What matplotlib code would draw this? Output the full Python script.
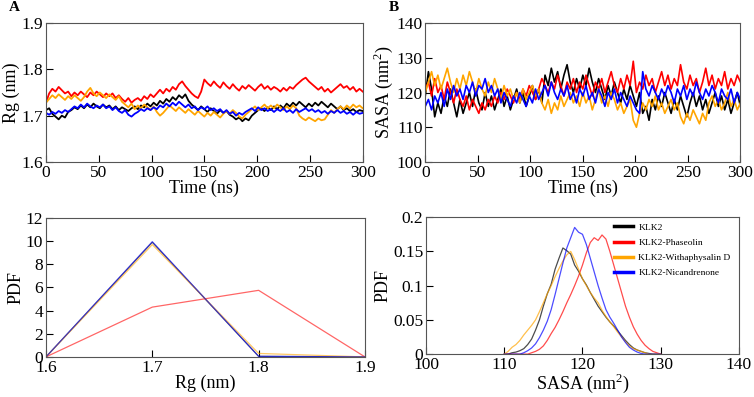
import numpy as np
import matplotlib
matplotlib.use("Agg")
import matplotlib.pyplot as plt

plt.rcParams["font.family"] = ["Liberation Serif", "DejaVu Serif"]
plt.rcParams["mathtext.fontset"] = "custom"
plt.rcParams["mathtext.rm"] = "Liberation Serif"

names = ["KLK2", "KLK2-Phaseolin", "KLK2-Withaphysalin D", "KLK2-Nicandrenone"]
colors = ["black", "red", "orange", "blue"]

# Rg (nm), sampled every 3 ns from 0 to 300 ns
rg_klk2 = [1.712, 1.716, 1.704, 1.698, 1.692, 1.700, 1.696, 1.708, 1.712, 1.718, 1.714, 1.722, 1.716, 1.724,
           1.718, 1.726, 1.720, 1.716, 1.724, 1.718, 1.722, 1.714, 1.720, 1.712, 1.718, 1.714, 1.710, 1.716,
           1.720, 1.714, 1.722, 1.718, 1.726, 1.720, 1.728, 1.722, 1.732, 1.726, 1.736, 1.730, 1.740, 1.734,
           1.744, 1.738, 1.746, 1.732, 1.724, 1.718, 1.712, 1.720, 1.714, 1.708, 1.716, 1.710, 1.704, 1.712,
           1.706, 1.710, 1.702, 1.698, 1.692, 1.696, 1.688, 1.694, 1.690, 1.700, 1.706, 1.712, 1.716, 1.710,
           1.718, 1.712, 1.720, 1.714, 1.722, 1.716, 1.726, 1.720, 1.728, 1.722, 1.730, 1.724, 1.718, 1.726,
           1.720, 1.728, 1.722, 1.730, 1.724, 1.718, 1.726, 1.720, 1.714, 1.720, 1.712, 1.716, 1.710, 1.714,
           1.708, 1.712, 1.710]
rg_phas = [1.728, 1.748, 1.758, 1.752, 1.762, 1.755, 1.748, 1.752, 1.742, 1.750, 1.744, 1.752, 1.746, 1.740,
           1.750, 1.744, 1.752, 1.746, 1.740, 1.748, 1.742, 1.748, 1.738, 1.744, 1.736, 1.730, 1.738, 1.728,
           1.734, 1.738, 1.732, 1.742, 1.736, 1.746, 1.740, 1.748, 1.756, 1.748, 1.758, 1.752, 1.762, 1.756,
           1.768, 1.774, 1.764, 1.756, 1.748, 1.742, 1.738, 1.752, 1.778, 1.770, 1.764, 1.774, 1.766, 1.760,
           1.772, 1.764, 1.758, 1.768, 1.760, 1.754, 1.764, 1.758, 1.766, 1.760, 1.754, 1.762, 1.768, 1.758,
           1.764, 1.756, 1.762, 1.758, 1.752, 1.760, 1.754, 1.762, 1.758, 1.766, 1.772, 1.778, 1.782, 1.774,
           1.768, 1.762, 1.756, 1.762, 1.752, 1.758, 1.750, 1.756, 1.762, 1.768, 1.760, 1.764, 1.756, 1.762,
           1.752, 1.758, 1.752]
rg_with = [1.728, 1.736, 1.744, 1.738, 1.746, 1.740, 1.734, 1.742, 1.736, 1.744, 1.738, 1.732, 1.740, 1.752,
           1.760, 1.748, 1.742, 1.750, 1.744, 1.738, 1.746, 1.740, 1.734, 1.742, 1.730, 1.724, 1.718, 1.726,
           1.714, 1.722, 1.716, 1.724, 1.718, 1.712, 1.720, 1.708, 1.700, 1.706, 1.714, 1.722, 1.716, 1.710,
           1.718, 1.712, 1.706, 1.714, 1.708, 1.702, 1.710, 1.704, 1.698, 1.706, 1.700, 1.708, 1.702, 1.696,
           1.704, 1.710, 1.704, 1.712, 1.706, 1.698, 1.694, 1.702, 1.708, 1.714, 1.720, 1.712, 1.718, 1.724,
           1.716, 1.722, 1.716, 1.724, 1.718, 1.712, 1.720, 1.714, 1.722, 1.716, 1.700, 1.694, 1.690, 1.696,
           1.692, 1.688, 1.694, 1.690, 1.692, 1.702, 1.712, 1.706, 1.714, 1.720, 1.714, 1.722, 1.716, 1.724,
           1.718, 1.722, 1.716]
rg_nica = [1.706, 1.702, 1.708, 1.704, 1.710, 1.706, 1.712, 1.708, 1.714, 1.720, 1.716, 1.724, 1.718, 1.726,
           1.720, 1.716, 1.722, 1.718, 1.724, 1.716, 1.720, 1.712, 1.718, 1.710, 1.706, 1.712, 1.702, 1.698,
           1.704, 1.708, 1.714, 1.710, 1.716, 1.712, 1.718, 1.714, 1.722, 1.718, 1.726, 1.720, 1.728, 1.722,
           1.730, 1.724, 1.718, 1.724, 1.716, 1.720, 1.712, 1.718, 1.714, 1.720, 1.712, 1.716, 1.710, 1.714,
           1.706, 1.712, 1.704, 1.708, 1.700, 1.706, 1.702, 1.708, 1.712, 1.716, 1.710, 1.718, 1.712, 1.716,
           1.710, 1.714, 1.708, 1.714, 1.710, 1.716, 1.708, 1.712, 1.706, 1.714, 1.708, 1.712, 1.716, 1.710,
           1.714, 1.708, 1.712, 1.706, 1.710, 1.704, 1.710, 1.706, 1.712, 1.706, 1.710, 1.704, 1.708, 1.702,
           1.708, 1.704, 1.706]

# SASA (nm^2), sampled every 3 ns from 0 to 300 ns
sasa_klk2 = [119, 126, 121, 113, 117, 114, 119, 116, 121, 117, 113, 118, 114, 117, 120, 116, 121, 117, 115, 120,
             116, 119, 115, 118, 121, 116, 119, 115, 118, 121, 117, 120, 116, 119, 122, 118, 121, 117, 125, 122,
             127, 123, 126, 121, 125, 128, 123, 120, 124, 121, 125, 122, 127, 123, 120, 124, 121, 118, 122, 119,
             123, 120, 117, 121, 118, 122, 119, 116, 120, 114, 116, 112, 118, 115, 119, 116, 120, 117, 114, 118,
             115, 119, 116, 113, 117, 120, 116, 119, 115, 118, 114, 117, 120, 116, 119, 115, 118, 114, 117, 120,
             116]
sasa_phas = [121, 123, 119, 124, 120, 122, 118, 123, 120, 117, 121, 118, 116, 119, 115, 118, 116, 114, 117, 115,
             118, 116, 119, 117, 120, 118, 121, 119, 117, 120, 118, 121, 119, 122, 120, 118, 121, 124, 122, 120,
             123, 121, 125, 122, 119, 123, 121, 124, 120, 123, 121, 125, 122, 119, 123, 121, 124, 120, 123, 126,
             122, 120, 124, 121, 125, 122, 129, 120, 123, 121, 125, 122, 124, 120, 123, 126, 122, 125, 121, 124,
             122, 128, 123, 121, 125, 122, 124, 120, 123, 127, 122, 125, 121, 124, 122, 126, 121, 124, 122, 125,
             123]
sasa_with = [120, 123, 126, 122, 125, 121, 124, 127, 123, 120, 124, 121, 125, 122, 126, 123, 120, 124, 121, 119,
             123, 120, 124, 121, 118, 122, 119, 121, 118, 120, 117, 121, 118, 120, 122, 119, 121, 117, 115, 118,
             114, 117, 115, 119, 116, 118, 120, 117, 119, 116, 120, 117, 119, 115, 118, 121, 117, 119, 116, 120,
             118, 115, 117, 114, 116, 118, 112, 110, 114, 117, 115, 118, 116, 119, 115, 117, 114, 116, 118, 115,
             117, 113, 111, 114, 112, 115, 113, 111, 114, 112, 117, 119, 116, 118, 115, 117, 120, 116, 118, 115,
             117]
sasa_nica = [116, 118, 115, 119, 117, 120, 116, 121, 118, 122, 119, 121, 118, 122, 120, 123, 119, 122, 121, 124,
             120, 122, 119, 121, 117, 120, 118, 116, 119, 117, 120, 118, 116, 119, 117, 121, 118, 120, 122, 119,
             123, 120, 118, 121, 119, 122, 118, 120, 117, 121, 119, 122, 118, 120, 117, 121, 119, 116, 120, 118,
             121, 117, 120, 118, 116, 119, 117, 115, 114, 126, 121, 119, 122, 120, 118, 121, 119, 122, 120, 117,
             121, 119, 122, 118, 121, 119, 123, 120, 118, 121, 119, 122, 120, 117, 121, 119, 118, 121, 117, 120,
             118]

# Rg probability density at 1.6, 1.7, 1.8, 1.9 nm
rg_bins = [1.6, 1.7, 1.8, 1.9]
rg_pdf_klk2 = [0.0, 9.9, 0.05, 0.0]
rg_pdf_phas = [0.0, 4.3, 5.75, 0.0]
rg_pdf_with = [0.0, 9.7, 0.3, 0.0]
rg_pdf_nica = [0.0, 9.95, 0.05, 0.0]

# SASA probability density, 110 to 130 nm^2 in 0.5 steps
sasa_bins = np.arange(110, 130.01, 0.5)
sasa_pdf_klk2 = [0.0, 0.0, 0.002, 0.003, 0.005, 0.008, 0.014, 0.022, 0.035, 0.05, 0.07, 0.088, 0.102, 0.124,
                 0.14, 0.155, 0.151, 0.146, 0.13, 0.121, 0.11, 0.101, 0.09, 0.08, 0.07, 0.062, 0.054, 0.047,
                 0.041, 0.034, 0.027, 0.02, 0.014, 0.009, 0.006, 0.004, 0.002, 0.001, 0.0, 0.0, 0.0]
sasa_pdf_phas = [0.0, 0.0, 0.0, 0.0, 0.0, 0.0, 0.0, 0.002, 0.004, 0.007, 0.012, 0.02, 0.03, 0.039, 0.05,
                 0.062, 0.075, 0.087, 0.1, 0.114, 0.13, 0.148, 0.163, 0.17, 0.166, 0.174, 0.168, 0.15, 0.13,
                 0.11, 0.09, 0.07, 0.054, 0.04, 0.029, 0.02, 0.013, 0.008, 0.004, 0.002, 0.0]
sasa_pdf_with = [0.0, 0.004, 0.01, 0.014, 0.02, 0.028, 0.035, 0.042, 0.05, 0.062, 0.075, 0.088, 0.1, 0.113,
                 0.125, 0.136, 0.145, 0.15, 0.138, 0.124, 0.11, 0.1, 0.09, 0.082, 0.075, 0.064, 0.055, 0.047,
                 0.04, 0.032, 0.025, 0.018, 0.012, 0.008, 0.006, 0.004, 0.002, 0.0, 0.0, 0.0, 0.0]
sasa_pdf_nica = [0.0, 0.0, 0.0, 0.0, 0.0, 0.002, 0.005, 0.009, 0.015, 0.024, 0.035, 0.048, 0.065, 0.087,
                 0.11, 0.133, 0.155, 0.17, 0.185, 0.178, 0.175, 0.16, 0.14, 0.12, 0.1, 0.082, 0.065, 0.054,
                 0.045, 0.035, 0.025, 0.017, 0.01, 0.006, 0.003, 0.001, 0.0, 0.0, 0.0, 0.0, 0.0]


def style_axes(ax):
    ax.tick_params(direction="in", length=5, width=0.8, labelsize=12.5, pad=2, top=False, right=False)
    for s in ax.spines.values():
        s.set_linewidth(0.8)
        s.set_color("#555555")


fig = plt.figure(figsize=(7.54, 3.97), dpi=100)
ax_rg = fig.add_axes([0.061, 0.592, 0.420, 0.350])
ax_sa = fig.add_axes([0.564, 0.592, 0.418, 0.350])
ax_rgp = fig.add_axes([0.061, 0.101, 0.423, 0.350])
ax_sap = fig.add_axes([0.565, 0.108, 0.415, 0.345])

rg_series = [rg_klk2, rg_phas, rg_with, rg_nica]
for vals, c in zip(rg_series, colors):
    t = np.linspace(0, 300, len(vals))
    ax_rg.plot(t, vals, color=c, lw=1.3)
ax_rg.set_xlim(0, 300)
ax_rg.set_ylim(1.6, 1.9)
ax_rg.set_xticks([0, 50, 100, 150, 200, 250, 300])
ax_rg.set_yticks([1.6, 1.7, 1.8, 1.9])
ax_rg.set_xlabel("Time (ns)", fontsize=13, labelpad=-1)
ax_rg.set_ylabel("Rg (nm)", fontsize=13, labelpad=1)
style_axes(ax_rg)

sasa_series = [sasa_klk2, sasa_phas, sasa_with, sasa_nica]
for vals, c in zip(sasa_series, colors):
    t = np.linspace(0, 300, len(vals))
    ax_sa.plot(t, vals, color=c, lw=1.2)
ax_sa.set_xlim(0, 300)
ax_sa.set_ylim(100, 140)
ax_sa.set_xticks([0, 50, 100, 150, 200, 250, 300])
ax_sa.set_yticks([100, 110, 120, 130, 140])
ax_sa.set_xlabel("Time (ns)", fontsize=13, labelpad=-1)
ax_sa.set_ylabel("SASA (nm$^2$)", fontsize=13, labelpad=1)
style_axes(ax_sa)

rg_pdfs = [rg_pdf_klk2, rg_pdf_phas, rg_pdf_with, rg_pdf_nica]
for vals, c in zip(rg_pdfs, colors):
    ax_rgp.plot(rg_bins, vals, color=c, lw=0.9, alpha=0.6)
ax_rgp.set_xlim(1.6, 1.9)
ax_rgp.set_ylim(0, 12)
ax_rgp.set_xticks([1.6, 1.7, 1.8, 1.9])
ax_rgp.set_yticks([0, 2, 4, 6, 8, 10, 12])
ax_rgp.set_xlabel("Rg (nm)", fontsize=13, labelpad=-1)
ax_rgp.set_ylabel("PDF", fontsize=13, labelpad=1)
style_axes(ax_rgp)

sasa_pdfs = [sasa_pdf_klk2, sasa_pdf_phas, sasa_pdf_with, sasa_pdf_nica]
for vals, c, n in zip(sasa_pdfs, colors, names):
    ax_sap.plot(sasa_bins, vals, color=c, lw=0.9, alpha=0.7, label=n)
ax_sap.set_xlim(100, 140)
ax_sap.set_ylim(0, 0.2)
ax_sap.set_xticks([100, 110, 120, 130, 140])
ax_sap.set_yticks([0, 0.05, 0.1, 0.15, 0.2])
ax_sap.set_yticklabels(["0", "0.05", "0.1", "0.15", "0.2"])
ax_sap.set_xlabel("SASA (nm$^2$)", fontsize=13, labelpad=-1)
ax_sap.set_ylabel("PDF", fontsize=13, labelpad=1)
style_axes(ax_sap)
leg = ax_sap.legend(loc="upper right", frameon=False, fontsize=6.8, handlelength=2.0,
                    handletextpad=0.6, labelspacing=0.7, borderaxespad=0.0,
                    bbox_to_anchor=(0.985, 0.985))
for line in leg.get_lines():
    line.set_linewidth(2.5)
    line.set_alpha(1)

fig.text(0.012, 0.998, "A", fontsize=11, fontweight="bold", va="top")
fig.text(0.515, 0.998, "B", fontsize=11, fontweight="bold", va="top")

fig.savefig("out.png", dpi=100)
